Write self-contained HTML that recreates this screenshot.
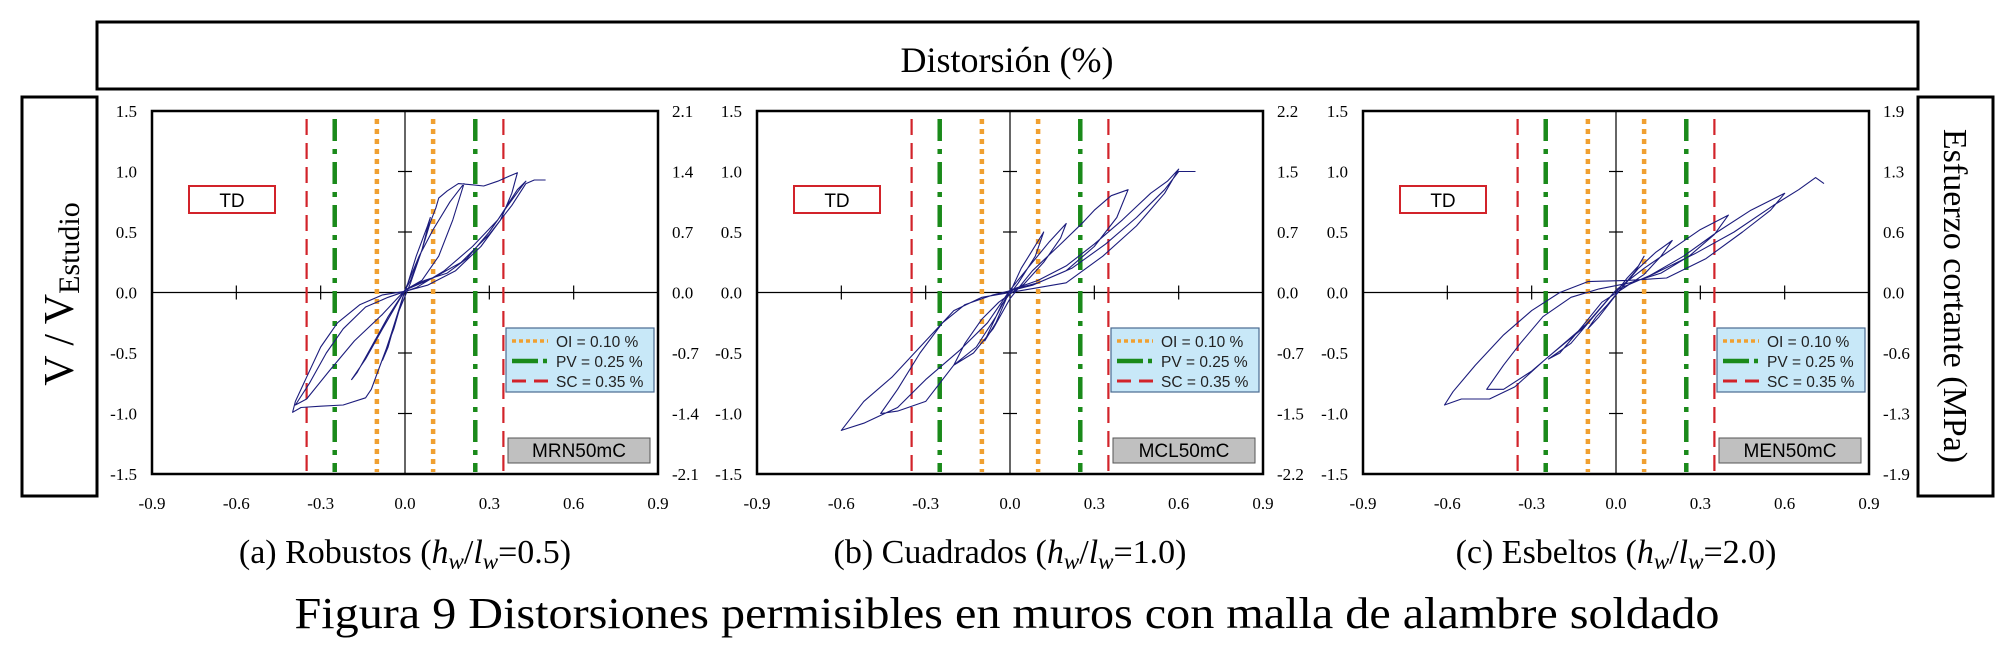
<!DOCTYPE html>
<html><head><meta charset="utf-8"><style>
html,body{margin:0;padding:0;background:#fff;}
svg{display:block;}
text{font-family:"Liberation Serif",serif;}
.sans{font-family:"Liberation Sans",sans-serif;}
</style></head><body>
<svg id="fig" width="2014" height="654" viewBox="0 0 2014 654" xmlns="http://www.w3.org/2000/svg">
<rect x="97" y="22" width="1821" height="67" fill="none" stroke="#000" stroke-width="3"/>
<text x="1007" y="72" font-size="36" text-anchor="middle">Distorsión (%)</text>
<rect x="22" y="97" width="75" height="399" fill="none" stroke="#000" stroke-width="3"/>
<text transform="translate(73,294) rotate(-90)" text-anchor="middle" font-size="42">V  /  V<tspan font-size="30" dy="6">Estudio</tspan></text>
<rect x="1918" y="97" width="75" height="399" fill="none" stroke="#000" stroke-width="3"/>
<text transform="translate(1944,296) rotate(90)" text-anchor="middle" font-size="34">Esfuerzo cortante (MPa)</text>
<text x="1007" y="628" font-size="44" text-anchor="middle" textLength="1425" lengthAdjust="spacingAndGlyphs">Figura 9 Distorsiones permisibles en muros con malla de alambre soldado</text>
<g id="panels"></g>
</svg>
<script>
// ---- data ----
const xTickValues = [-0.9, -0.6, -0.3, 0.0, 0.3, 0.6, 0.9];
const xTickLabels = ["-0.9", "-0.6", "-0.3", "0.0", "0.3", "0.6", "0.9"];
const yTickValues = [1.5, 1.0, 0.5, 0.0, -0.5, -1.0, -1.5];
const yTickLabels = ["1.5", "1.0", "0.5", "0.0", "-0.5", "-1.0", "-1.5"];
const rightLabelsA = ["2.1", "1.4", "0.7", "0.0", "-0.7", "-1.4", "-2.1"];
const rightLabelsB = ["2.2", "1.5", "0.7", "0.0", "-0.7", "-1.5", "-2.2"];
const rightLabelsC = ["1.9", "1.3", "0.6", "0.0", "-0.6", "-1.3", "-1.9"];
const limitOI = 0.10;
const limitPV = 0.25;
const limitSC = 0.35;
const legendLabels = ["OI = 0.10 %", "PV = 0.25 %", "SC = 0.35 %"];
const specimenNames = ["MRN50mC", "MCL50mC", "MEN50mC"];
const captionRatios = ["0.5", "1.0", "2.0"];
const captionNames = ["(a) Robustos (", "(b) Cuadrados (", "(c) Esbeltos ("];
const hysteresisA = [[0,0],[0.04,0.3],[0.08,0.55],[0.09,0.62],[0.06,0.35],[0.02,0.08],[-0.03,-0.2],[-0.06,-0.45],[-0.08,-0.56],[-0.05,-0.35],[0,0.02],[0.05,0.3],[0.1,0.52],[0.16,0.75],[0.2,0.87],[0.21,0.9],[0.17,0.6],[0.12,0.3],[0.06,0.1],[0,0.02],[-0.06,-0.2],[-0.12,-0.45],[-0.17,-0.66],[-0.19,-0.72],[-0.14,-0.55],[-0.08,-0.3],[-0.03,-0.1],[0.02,0.1],[0.06,0.35],[0.09,0.58],[0.11,0.7],[0.12,0.78],[0.15,0.84],[0.19,0.9],[0.24,0.89],[0.28,0.88],[0.33,0.92],[0.37,0.96],[0.4,0.99],[0.38,0.82],[0.34,0.6],[0.27,0.38],[0.18,0.18],[0.08,0.06],[0,0.01],[-0.08,-0.02],[-0.16,-0.1],[-0.24,-0.25],[-0.3,-0.45],[-0.35,-0.7],[-0.39,-0.9],[-0.4,-0.99],[-0.37,-0.95],[-0.3,-0.94],[-0.22,-0.93],[-0.14,-0.87],[-0.12,-0.8],[-0.08,-0.55],[-0.04,-0.3],[0,0.02],[0.07,0.1],[0.15,0.16],[0.22,0.28],[0.3,0.5],[0.36,0.7],[0.41,0.86],[0.43,0.92],[0.4,0.85],[0.33,0.6],[0.24,0.38],[0.14,0.18],[0.04,0.04],[-0.06,-0.04],[-0.14,-0.12],[-0.22,-0.3],[-0.28,-0.5],[-0.34,-0.75],[-0.39,-0.93],[-0.35,-0.88],[-0.27,-0.65],[-0.18,-0.4],[-0.08,-0.18],[0,0.02],[0.1,0.12],[0.2,0.25],[0.3,0.48],[0.38,0.72],[0.43,0.9],[0.46,0.93],[0.5,0.93]];
const hysteresisB = [[0,0],[0.04,0.2],[0.08,0.35],[0.12,0.5],[0.09,0.3],[0.03,0.08],[-0.03,-0.1],[-0.07,-0.3],[-0.09,-0.4],[-0.05,-0.25],[0,0.02],[0.08,0.25],[0.14,0.42],[0.2,0.57],[0.18,0.45],[0.12,0.25],[0.05,0.07],[-0.04,-0.08],[-0.1,-0.22],[-0.16,-0.42],[-0.2,-0.6],[-0.13,-0.5],[-0.06,-0.3],[0,-0.05],[0.08,0.18],[0.18,0.4],[0.26,0.58],[0.3,0.68],[0.36,0.8],[0.42,0.85],[0.38,0.62],[0.3,0.38],[0.2,0.18],[0.08,0.06],[-0.06,-0.02],[-0.16,-0.1],[-0.24,-0.25],[-0.32,-0.5],[-0.4,-0.8],[-0.46,-1.0],[-0.4,-0.98],[-0.3,-0.9],[-0.2,-0.6],[-0.12,-0.45],[-0.05,-0.2],[0,0.02],[0.1,0.1],[0.2,0.22],[0.3,0.4],[0.4,0.6],[0.5,0.82],[0.56,0.92],[0.6,1.02],[0.55,0.82],[0.45,0.55],[0.33,0.3],[0.2,0.08],[0.05,0.02],[-0.1,-0.04],[-0.2,-0.15],[-0.3,-0.4],[-0.42,-0.7],[-0.52,-0.9],[-0.6,-1.14],[-0.52,-1.08],[-0.4,-0.95],[-0.3,-0.72],[-0.18,-0.48],[-0.08,-0.25],[0,0.02],[0.1,0.08],[0.22,0.2],[0.34,0.4],[0.45,0.62],[0.55,0.85],[0.6,1.0],[0.66,1.0]];
const hysteresisC = [[0,0],[0.04,0.12],[0.08,0.22],[0.1,0.3],[0.07,0.18],[0.02,0.04],[-0.03,-0.1],[-0.07,-0.2],[-0.1,-0.3],[-0.06,-0.2],[0,-0.02],[0.08,0.2],[0.14,0.33],[0.2,0.43],[0.16,0.3],[0.1,0.15],[0.03,0.04],[-0.05,-0.08],[-0.12,-0.28],[-0.2,-0.5],[-0.24,-0.55],[-0.16,-0.42],[-0.08,-0.2],[0,0.02],[0.1,0.2],[0.2,0.36],[0.3,0.52],[0.4,0.64],[0.35,0.48],[0.26,0.3],[0.16,0.16],[0.05,0.08],[-0.06,0.03],[-0.16,-0.04],[-0.26,-0.2],[-0.34,-0.42],[-0.4,-0.6],[-0.46,-0.8],[-0.4,-0.8],[-0.3,-0.65],[-0.2,-0.45],[-0.1,-0.25],[0,0.02],[0.12,0.14],[0.24,0.3],[0.36,0.5],[0.48,0.68],[0.6,0.82],[0.55,0.68],[0.45,0.5],[0.32,0.28],[0.18,0.12],[0.04,0.1],[-0.1,0.09],[-0.2,0.0],[-0.3,-0.15],[-0.4,-0.35],[-0.5,-0.6],[-0.58,-0.82],[-0.61,-0.93],[-0.55,-0.88],[-0.45,-0.88],[-0.36,-0.78],[-0.25,-0.55],[-0.12,-0.3],[0,0.02],[0.14,0.16],[0.28,0.32],[0.42,0.5],[0.56,0.72],[0.65,0.85],[0.71,0.95],[0.74,0.9]];
const hysteresisSets = [hysteresisA, hysteresisB, hysteresisC];
const rightLabelSets = [rightLabelsA, rightLabelsB, rightLabelsC];

// ---- layout ----
const NS = "http://www.w3.org/2000/svg";
const plotTop = 111, plotBottom = 474;
const plotLefts = [152, 757, 1363];
const plotW = 506;
const root = document.getElementById("panels");
function mk(tag, attrs, parent) {
  const e = document.createElementNS(NS, tag);
  for (const k in attrs) e.setAttribute(k, attrs[k]);
  (parent || root).appendChild(e);
  return e;
}
for (let p = 0; p < 3; p++) {
  const L = plotLefts[p], R = L + plotW;
  const xs = v => L + (v + 0.9) / 1.8 * plotW;
  const ys = v => plotTop + (1.5 - v) / 3.0 * (plotBottom - plotTop);
  const g = mk("g", {});
  
  
  const frame = mk("rect", {x: L, y: plotTop, width: plotW, height: plotBottom - plotTop, fill: "#fff", stroke: "#000", "stroke-width": 2.5}, g);
  
  
  const xa = mk("line", {x1: L, x2: R, y1: ys(0), y2: ys(0), stroke: "#000", "stroke-width": 1.2}, g);
  
  
  const ya = mk("line", {x1: xs(0), x2: xs(0), y1: plotTop, y2: plotBottom, stroke: "#000", "stroke-width": 1.2}, g);
  
  
  xTickValues.forEach((v, i) => {
    if (Math.abs(v) > 0.01 && Math.abs(v) < 0.89) {
      const t = mk("line", {x1: xs(v), x2: xs(v), y1: ys(0) - 7, y2: ys(0) + 7, stroke: "#000", "stroke-width": 1.2}, g);
      
      
    }
    const tl = mk("text", {x: xs(v), y: 509, "font-size": 17, "text-anchor": "middle"}, g);
    tl.textContent = xTickLabels[i];
    
    
  });
  yTickValues.forEach((v, i) => {
    if (Math.abs(v) > 0.01 && Math.abs(v) < 1.49) {
      const t = mk("line", {x1: xs(0) - 7, x2: xs(0) + 7, y1: ys(v), y2: ys(v), stroke: "#000", "stroke-width": 1.2}, g);
      
      
    }
    const tl = mk("text", {x: L - 15, y: ys(v) + 6, "font-size": 17, "text-anchor": "end"}, g);
    tl.textContent = yTickLabels[i];
    
    
    const tr = mk("text", {x: R + 14, y: ys(v) + 6, "font-size": 17, "text-anchor": "start"}, g);
    tr.textContent = rightLabelSets[p][i];
    
    
  });
  const limits = [
    {v: limitSC, c: "#d2232a", w: 2.2, d: "16,8", n: "sc-limit-line"},
    {v: limitPV, c: "#1a8a1a", w: 4.5, d: "22,8,5,8", n: "pv-limit-line"},
    {v: limitOI, c: "#f0a030", w: 4.5, d: "5,5", n: "oi-limit-line"}
  ];
  limits.forEach(l => {
    [-1, 1].forEach(s => {
      const ln = mk("line", {x1: xs(s * l.v), x2: xs(s * l.v), y1: plotTop + 8, y2: plotBottom - 2, stroke: l.c, "stroke-width": l.w, "stroke-dasharray": l.d}, g);
      
      
    });
  });
  const pts = hysteresisSets[p].map(q => xs(q[0]).toFixed(1) + "," + ys(q[1]).toFixed(1)).join(" ");
  const cv = mk("polyline", {points: pts, fill: "none", stroke: "#1c1c7c", "stroke-width": 1.1, "stroke-linejoin": "round"}, g);
  
  
  const td = mk("rect", {x: L + 37, y: 186, width: 86, height: 27, fill: "#fff", stroke: "#d2232a", "stroke-width": 2}, g);
  
  
  const tdt = mk("text", {x: L + 80, y: 207, "font-size": 19, "text-anchor": "middle", class: "sans"}, g);
  tdt.textContent = "TD";
  
  
  const lx = R - 152, ly = 328;
  const lg = mk("g", {}, g);
  
  
  mk("rect", {x: lx, y: ly, width: 148, height: 64, fill: "#c8e8f8", stroke: "#4a6a90", "stroke-width": 1.2}, lg);
  const legStyles = [["#f0a030", 3.5, "4,3"], ["#1a8a1a", 4.5, "26,5,4,5"], ["#d2232a", 3, "14,8"]];
  legendLabels.forEach((s, i) => {
    const yy = ly + 13 + i * 20;
    const sw = mk("line", {x1: lx + 6, x2: lx + 42, y1: yy, y2: yy, stroke: legStyles[i][0], "stroke-width": legStyles[i][1], "stroke-dasharray": legStyles[i][2]}, lg);
    
    
    const tx = mk("text", {x: lx + 50, y: yy + 6, "font-size": 15.5, class: "sans", fill: "#222"}, lg);
    tx.textContent = s;
    
    
  });
  const sb = mk("rect", {x: R - 150, y: 438, width: 142, height: 25, fill: "#c0c0c0", stroke: "#555", "stroke-width": 1}, g);
  
  
  const st = mk("text", {x: R - 79, y: 457, "font-size": 19, "text-anchor": "middle", class: "sans"}, g);
  st.textContent = specimenNames[p];
  
  
  const cap = mk("text", {x: L + plotW / 2, y: 563, "font-size": 34, "text-anchor": "middle"}, g);
  
  
  const parts = [[captionNames[p], {}], ["h", {"font-style": "italic"}], ["w", {"font-style": "italic", "font-size": 23, dy: 6}], ["/", {dy: -6}], ["l", {"font-style": "italic"}], ["w", {"font-style": "italic", "font-size": 23, dy: 6}], ["=" + captionRatios[p] + ")", {dy: -6}]];
  parts.forEach(pt => {
    const ts = mk("tspan", pt[1], cap);
    ts.textContent = pt[0];
  });
}
</script>
</body></html>
